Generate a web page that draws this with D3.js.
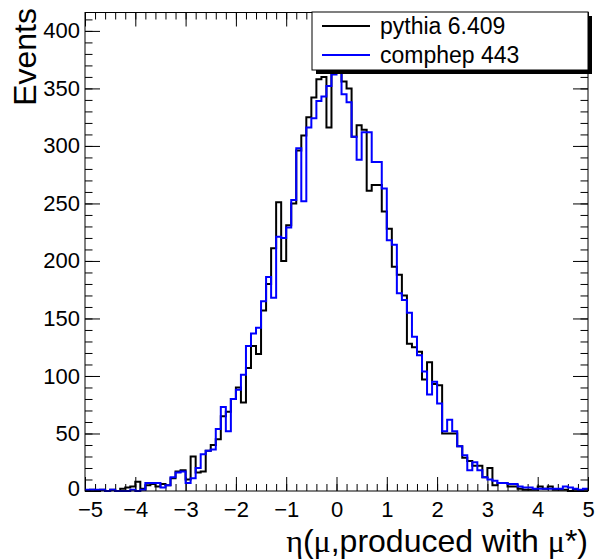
<!DOCTYPE html>
<html>
<head>
<meta charset="utf-8">
<script src="https://cdn.jsdelivr.net/npm/d3@7"></script>
<style>
body { margin: 0; background: #fff; }
svg { display: block; }
text { font-family: "Liberation Sans", Arial, sans-serif; fill: #000; }
</style>
</head>
<body>
<script>
// 100 bins of width 0.1 between -5 and 5
const binRange = [-5, 5];
const binCount = 100;

const pythia = [
  0, 1, 0, 1, 0, 1, 0, 2, 3, 4,
  8, 2, 5, 6, 4, 6, 5, 11, 17, 18,
  10, 30, 16, 17, 35, 40, 45, 65, 69, 80,
  90, 77, 107, 126, 119, 157, 180, 211, 251, 200,
  231, 250, 296, 309, 325, 342, 358, 360, 316, 380,
  372, 356, 350, 308, 318, 314, 261, 266, 266, 243,
  228, 195, 188, 170, 128, 125, 121, 97, 112, 93,
  92, 50, 50, 50, 39, 29, 26, 22, 22, 12,
  20, 5, 7, 7, 4, 4, 2, 1, 1, 1,
  4, 2, 4, 1, 1, 1, 0, 1, 0, 1
];

const comphep = [
  1, 1, 1, 1, 0, 1, 0, 0, 0, 1,
  0, 1, 7, 7, 7, 3, 5, 12, 16, 17,
  7, 11, 20, 32, 35, 36, 54, 73, 52, 80,
  88, 101, 126, 137, 142, 165, 186, 168, 221, 220,
  229, 253, 298, 252, 316, 324, 339, 343, 352, 362,
  396, 345, 338, 308, 288, 312, 312, 286, 286, 263,
  218, 214, 172, 166, 155, 134, 118, 104, 84, 95,
  76, 52, 62, 52, 39, 31, 18, 25, 18, 12,
  10, 9, 7, 7, 6, 6, 4, 3, 3, 2,
  2, 2, 2, 2, 2, 4, 3, 2, 1, 2
];

const seriesNames = ["pythia 6.409", "comphep 443"];
const seriesColors = ["#000000", "#0000ff"];
const xTicks = [-5, -4, -3, -2, -1, 0, 1, 2, 3, 4, 5];
const yTicks = [0, 50, 100, 150, 200, 250, 300, 350, 400];
const yMax = 416;

const W = 596, H = 559;
const frame = {left: 85, right: 588, top: 12.5, bottom: 491};

const svg = d3.select("body").append("svg").attr("width", W).attr("height", H);

const x = d3.scaleLinear().domain(binRange).range([frame.left, frame.right]);
const y = d3.scaleLinear().domain([0, yMax]).range([frame.bottom, frame.top]);

const binWidth = (binRange[1] - binRange[0]) / binCount;
const xMinor = d3.range(binRange[0], binRange[1] + 1e-9, 0.2).map(v => +v.toFixed(1));
const yMinor = d3.range(0, yMax, 10);

function minorAxis(axisFn, scale, values, size) {
  return axisFn(scale).tickValues(values).tickFormat("").tickSizeInner(-size).tickSizeOuter(0);
}

// ticks on all four sides, pointing inward
const gAx = svg.append("g").attr("class", "axes");
const gx = gAx.append("g").attr("transform", `translate(0,${frame.bottom})`)
  .call(d3.axisBottom(x).tickValues(xTicks).tickSizeInner(-14).tickSizeOuter(0).tickPadding(10));
gAx.append("g").attr("transform", `translate(0,${frame.bottom})`)
  .call(minorAxis(d3.axisBottom, x, xMinor, 7));
gAx.append("g").attr("transform", `translate(0,${frame.top})`)
  .call(d3.axisTop(x).tickValues(xTicks).tickFormat("").tickSizeInner(-14).tickSizeOuter(0));
gAx.append("g").attr("transform", `translate(0,${frame.top})`)
  .call(minorAxis(d3.axisTop, x, xMinor, 7));
const gy = gAx.append("g").attr("transform", `translate(${frame.left},0)`)
  .call(d3.axisLeft(y).tickValues(yTicks).tickSizeInner(-15).tickSizeOuter(0).tickPadding(5));
gAx.append("g").attr("transform", `translate(${frame.left},0)`)
  .call(minorAxis(d3.axisLeft, y, yMinor, 7.5));
gAx.append("g").attr("transform", `translate(${frame.right},0)`)
  .call(d3.axisRight(y).tickValues(yTicks).tickFormat("").tickSizeInner(-15).tickSizeOuter(0));
gAx.append("g").attr("transform", `translate(${frame.right},0)`)
  .call(minorAxis(d3.axisRight, y, yMinor, 7.5));

gAx.selectAll(".domain").remove();
gAx.selectAll(".tick line").attr("stroke", "#000").attr("stroke-width", 1);
gAx.selectAll(".tick text")
  .style("font-family", '"Liberation Sans", Arial, sans-serif')
  .style("font-size", "22px").attr("fill", "#000");

// keep the corner labels "0" and "-5" apart
gx.selectAll(".tick text").filter(d => d === -5).attr("dx", 5);
gy.selectAll(".tick text").filter(d => d === 0).attr("dy", "0.2em");

// histograms as step outlines
const line = d3.line().x(d => x(d[0])).y(d => y(d[1]));
function stepPoints(values) {
  const pts = [];
  values.forEach((v, i) => {
    const lo = binRange[0] + i * binWidth;
    pts.push([lo, v], [lo + binWidth, v]);
  });
  return pts;
}
[pythia, comphep].forEach((vals, k) => {
  svg.append("path")
    .attr("d", line(stepPoints(vals)))
    .attr("fill", "none")
    .attr("stroke", seriesColors[k])
    .attr("stroke-width", 2)
    .attr("stroke-linejoin", "miter");
});

// frame
svg.append("rect")
  .attr("x", frame.left).attr("y", frame.top)
  .attr("width", frame.right - frame.left).attr("height", frame.bottom - frame.top)
  .attr("fill", "none").attr("stroke", "#000").attr("stroke-width", 1);

// axis titles
svg.append("text")
  .attr("transform", "translate(36,8) rotate(-90)")
  .attr("text-anchor", "end")
  .style("font-size", "32px")
  .text("Events");

const xt = svg.append("text")
  .attr("x", frame.right).attr("y", 552)
  .attr("text-anchor", "end")
  .style("font-size", "32px");
xt.append("tspan").style("font-family", '"Liberation Serif", serif').text("η");
xt.append("tspan").text("(");
xt.append("tspan").style("font-family", '"Liberation Serif", serif').text("μ");
xt.append("tspan").text(",produced with ");
xt.append("tspan").style("font-family", '"Liberation Serif", serif').text("μ");
xt.append("tspan").text("*)");

// legend with shadow
const leg = {x: 312, y: 12, w: 276, h: 58, shadow: 4};
svg.append("rect")
  .attr("x", leg.x + leg.shadow).attr("y", leg.y + leg.shadow)
  .attr("width", leg.w).attr("height", leg.h).attr("fill", "#000");
svg.append("rect")
  .attr("x", leg.x).attr("y", leg.y)
  .attr("width", leg.w).attr("height", leg.h)
  .attr("fill", "#fff").attr("stroke", "#000").attr("stroke-width", 1);
seriesNames.forEach((name, k) => {
  const cy = leg.y + 14 + k * 29;
  svg.append("line")
    .attr("x1", 322).attr("x2", 370).attr("y1", cy).attr("y2", cy)
    .attr("stroke", seriesColors[k]).attr("stroke-width", 2);
  svg.append("text")
    .attr("x", 380).attr("y", cy + 8)
    .style("font-size", "23px")
    .text(name);
});
</script>
</body>
</html>
